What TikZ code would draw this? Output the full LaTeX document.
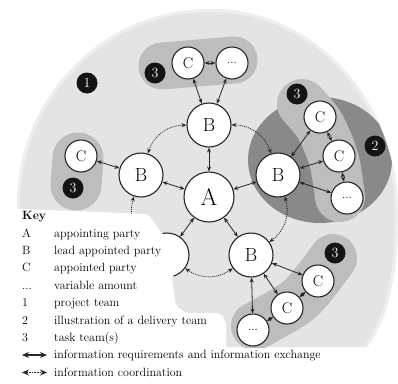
\documentclass[tikz,border=0pt]{standalone}
\usepackage{fontspec}
\usetikzlibrary{arrows.meta}

\definecolor{projgrey}{HTML}{E4E4E4}
\definecolor{rimgrey}{HTML}{EEEEEE}
\definecolor{taskgrey}{HTML}{BDBDBD}
\definecolor{delgrey}{HTML}{898989}
\definecolor{inkgrey}{HTML}{262626}

% outline of the project team area
\def\projectoutline{(17,347) -- (17,205) .. controls (17,97) and (103,9) .. (210,9)
  .. controls (315,9) and (398,100) .. (398,215)
  .. controls (398,280) and (386,322) .. (367,347) -- cycle}

\begin{document}
\begin{tikzpicture}[x=1pt,y=-1pt,
  party/.style={circle, draw=inkgrey, line width=1.1pt, fill=white, inner sep=0pt},
  partyA/.style={party, minimum size=50pt, font=\fontsize{24}{24}\selectfont},
  partyB/.style={party, minimum size=44pt, font=\fontsize{19}{19}\selectfont},
  partyC/.style={party, minimum size=32pt, font=\fontsize{15.5}{15.5}\selectfont},
  partyN/.style={party, minimum size=32pt, font=\fontsize{12}{12}\selectfont},
  badge/.style={circle, fill=black!92, text=white, minimum size=21pt, inner sep=0pt,
    font=\fontsize{14}{14}\selectfont},
  exch/.style={{Stealth[length=5pt,width=4pt]}-{Stealth[length=5pt,width=4pt]},
    line width=0.8pt, draw=inkgrey},
  coord/.style={exch, dash pattern=on 1pt off 1pt},
  keyexch/.style={{Stealth[length=7pt,width=6pt]}-{Stealth[length=7pt,width=6pt]},
    line width=1.1pt, draw=inkgrey},
  keycoord/.style={keyexch, dash pattern=on 1.5pt off 1.2pt},
  keytext/.style={anchor=base west, inner sep=0pt, font=\fontsize{12}{12}\selectfont},
  teamband/.style={line width=48pt, line cap=round, line join=round, draw=taskgrey}
]
\useasboundingbox (0,0) rectangle (398,383);
\fill[white] (0,0) rectangle (398,383);

% project team (1)
\fill[projgrey] \projectoutline;
\begin{scope}
  \clip \projectoutline;
  \draw[rimgrey, line width=6pt] (17,230) -- (17,205) .. controls (17,97) and (103,9) .. (210,9)
    .. controls (315,9) and (398,100) .. (398,215)
    .. controls (398,280) and (386,322) .. (367,347);
  % delivery team (2)
  \fill[delgrey] (320,160) ellipse [x radius=72, y radius=63];
\end{scope}

% task teams (3)
\draw[teamband, line width=47pt] (162,66) -- (234,60);
\draw[teamband, line width=51pt] (78,158) -- (76,185);
\draw[teamband, line width=50pt] plot[smooth] coordinates {(302,104) (320,126) (334,160) (340,197)};
\begin{scope}
  \clip (0,0) rectangle (398,347);
  \draw[teamband] plot[smooth] coordinates {(333,258) (300,299) (255,326)};
\end{scope}

% parties partly covered by the key
\node[partyB] (Bl) at (141,175) {B};
\node[partyB] (Bbl) at (167,255) {B};
\draw[coord] (Bl) to[bend right=36] (Bbl);

% key area
\fill[white, rounded corners=3pt] (-2,208) -- (148,214) -- (160,231) -- (178,249) -- (178,262)
  -- (172,280) -- (176,306) -- (186,313) -- (220,313) -- (226,322) -- (226,350) -- (-2,350) -- cycle;

% parties
\node[partyA] (A) at (209,197) {A};
\node[partyB] (Bt) at (209,125) {B};
\node[partyB] (Br) at (278,175) {B};
\node[partyB] (Bbr) at (251,255) {B};

\node[partyC] (Ct) at (188,63) {C};
\node[partyN] (Dt) at (232,63) {...};
\node[partyC] (Cl) at (81,156) {C};
\node[partyC] (Cr1) at (320,117) {C};
\node[partyC] (Cr2) at (339,156) {C};
\node[partyN] (Dr) at (347,198) {...};
\node[partyC] (Cb1) at (318,281) {C};
\node[partyC] (Cb2) at (287,308) {C};
\node[partyN] (Db) at (253,330) {...};

% team numbers
\node[badge] (n1) at (87,83) {1};
\node[badge] (n2) at (375,146) {2};
\node[badge] (n3a) at (155,73) {3};
\node[badge] (n3b) at (73,188) {3};
\node[badge] (n3c) at (297,94) {3};
\node[badge] (n3d) at (335,253) {3};

% information requirements and exchange
\draw[exch] (A) -- (Bt);
\draw[exch] (A) -- (Bl);
\draw[exch] (A) -- (Br);
\draw[exch] (A) -- (Bbr);
\draw[exch] (A) -- (Bbl);
\draw[exch] (Bt) -- (Ct);
\draw[exch] (Bt) -- (Dt);
\draw[exch] (Ct) -- (Dt);
\draw[exch] (Bl) -- (Cl);
\draw[exch] (Br) -- (Cr1);
\draw[exch] (Br) -- (Cr2);
\draw[exch] (Br) -- (Dr);
\draw[exch] (Cr1) -- (Cr2);
\draw[exch] (Cr2) -- (Dr);
\draw[exch] (Bbr) -- (Cb1);
\draw[exch] (Bbr) -- (Cb2);
\draw[exch] (Bbr) -- (Db);
\draw[exch] (Cb1) -- (Cb2);
\draw[exch] (Cb2) -- (Db);

% information coordination
\draw[coord] (Bt) to[bend right=36] (Bl);
\draw[coord] (Br) to[bend right=36] (Bt);
\draw[coord] (Bbr) to[bend right=36] (Br);
\draw[coord] (Bbl) to[bend right=36] (Bbr);

% key
\node[keytext, font=\fontsize{12}{12}\selectfont\bfseries] (kh) at (22,219) {Key};
\node[keytext] (ka) at (22,237) {A};
\node[keytext] (kat) at (54,237) {appointing party};
\node[keytext] (kb) at (22,254.4) {B};
\node[keytext] (kbt) at (54,254.4) {lead appointed party};
\node[keytext] (kc) at (22,271.8) {C};
\node[keytext] (kct) at (54,271.8) {appointed party};
\node[keytext] (kd) at (22,289.2) {...};
\node[keytext] (kdt) at (54,289.2) {variable amount};
\node[keytext] (k1) at (22,306.6) {1};
\node[keytext] (k1t) at (54,306.6) {project team};
\node[keytext] (k2) at (22,324) {2};
\node[keytext] (k2t) at (54,324) {illustration of a delivery team};
\node[keytext] (k3) at (22,341.4) {3};
\node[keytext] (k3t) at (54,341.4) {task team(s)};
\coordinate (ke1) at (22,355);
\coordinate (ke2) at (47,355);
\draw[keyexch] (ke1) -- (ke2);
\node[keytext] (ket) at (54,358.8) {information requirements and information exchange};
\coordinate (kc1) at (22,372.5);
\coordinate (kc2) at (47,372.5);
\draw[keycoord] (kc1) -- (kc2);
\node[keytext] (kct2) at (54,376.2) {information coordination};
\end{tikzpicture}
\end{document}
